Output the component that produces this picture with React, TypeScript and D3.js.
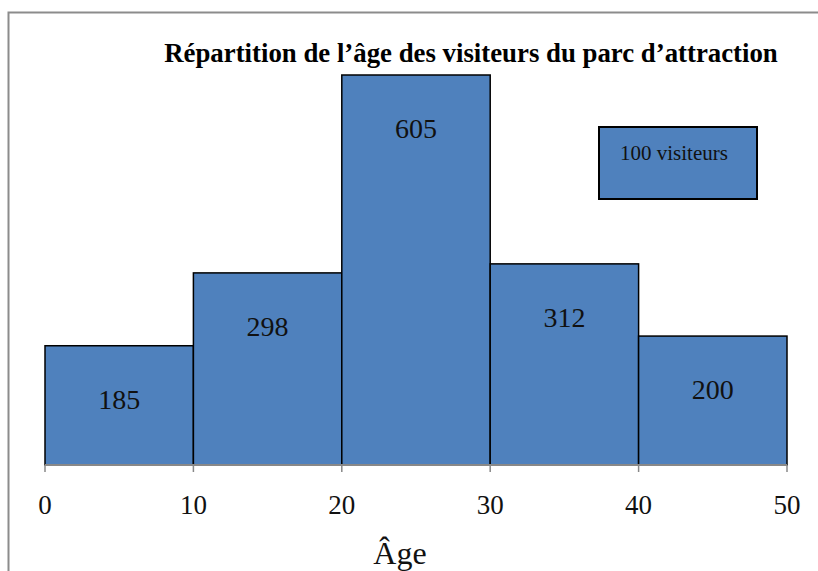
import React, { useEffect, useRef } from 'react';
import * as d3 from 'd3';

const binStarts = [0, 10, 20, 30, 40];
const binWidth = 10;
const counts = [185, 298, 605, 312, 200];
const xTicks = [0, 10, 20, 30, 40, 50];
const title = 'Répartition de l’âge des visiteurs du parc d’attraction';
const xLabel = 'Âge';
const legendLabel = '100 visiteurs';

const App = () => {
  const ref = useRef<SVGSVGElement>(null);

  useEffect(() => {
    const svg = d3.select(ref.current);
    svg.selectAll('*').remove();
    const serif = '"Liberation Serif", "Times New Roman", serif';

    // frame (only top and left visible)
    svg.append('path')
      .attr('d', 'M8.5,571 L8.5,12.5 L818,12.5')
      .attr('fill', 'none')
      .attr('stroke', '#8c8c8c')
      .attr('stroke-width', 2);

    const x = d3.scaleLinear().domain([0, 50]).range([45, 787]);
    const y = d3.scaleLinear().domain([0, 605]).range([465, 75]);

    // bars
    svg.append('g')
      .selectAll('rect')
      .data(counts)
      .join('rect')
      .attr('x', (d, i) => x(binStarts[i]))
      .attr('y', d => y(d))
      .attr('width', (d, i) => x(binStarts[i] + binWidth) - x(binStarts[i]))
      .attr('height', d => y(0) - y(d))
      .attr('fill', '#4F81BD')
      .attr('stroke', '#000')
      .attr('stroke-width', 1.5);

    // bar labels
    svg.append('g')
      .selectAll('text')
      .data(counts)
      .join('text')
      .attr('x', (d, i) => x(binStarts[i] + binWidth / 2))
      .attr('y', d => y(d) + 57)
      .attr('text-anchor', 'middle')
      .attr('dominant-baseline', 'middle')
      .attr('font-family', serif)
      .attr('font-size', 28)
      .attr('fill', '#111')
      .text(d => d);

    // x axis
    const axis = svg.append('g').attr('transform', 'translate(0,465)');
    axis.append('line')
      .attr('x1', x(0)).attr('x2', x(50))
      .attr('stroke', '#888').attr('stroke-width', 2);
    axis.selectAll('line.tick')
      .data(xTicks)
      .join('line')
      .attr('class', 'tick')
      .attr('x1', d => x(d)).attr('x2', d => x(d))
      .attr('y1', 0).attr('y2', 7)
      .attr('stroke', '#888').attr('stroke-width', 1.5);
    axis.selectAll('text')
      .data(xTicks)
      .join('text')
      .attr('x', d => x(d))
      .attr('y', 49)
      .attr('text-anchor', 'middle')
      .attr('font-family', serif)
      .attr('font-size', 27)
      .attr('fill', '#111')
      .text(d => d);

    svg.append('text')
      .attr('x', 400)
      .attr('y', 564)
      .attr('text-anchor', 'middle')
      .attr('font-family', serif)
      .attr('font-size', 32)
      .attr('fill', '#111')
      .text(xLabel);

    // title
    svg.append('text')
      .attr('x', 471)
      .attr('y', 62)
      .attr('text-anchor', 'middle')
      .attr('font-family', serif)
      .attr('font-weight', 'bold')
      .attr('font-size', 26.8)
      .attr('fill', '#000')
      .text(title);

    // legend box
    svg.append('rect')
      .attr('x', 599).attr('y', 127)
      .attr('width', 158).attr('height', 72)
      .attr('fill', '#4F81BD')
      .attr('stroke', '#000')
      .attr('stroke-width', 2);
    svg.append('text')
      .attr('x', 620)
      .attr('y', 160)
      .attr('font-family', serif)
      .attr('font-size', 21)
      .attr('fill', '#111')
      .text(legendLabel);
  }, []);

  return (
    <svg ref={ref} width={818} height={571}
      style={{ position: 'absolute', left: 0, top: 0 }} />
  );
};

export default App;
